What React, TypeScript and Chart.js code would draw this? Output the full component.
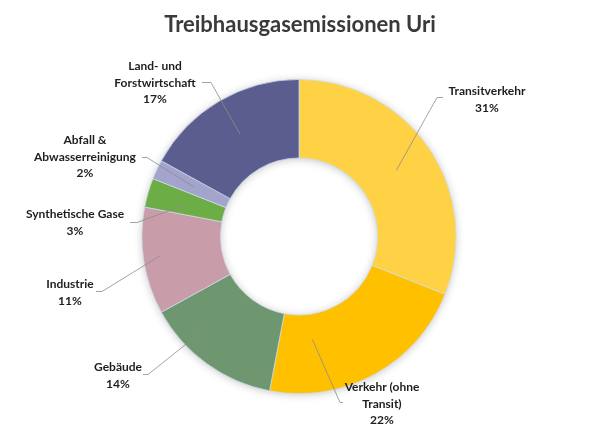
import React, { useEffect, useRef } from "react";
import { Chart, registerables } from "chart.js";

Chart.register(...registerables);

const TITLE = "Treibhausgasemissionen Uri";
const categories = [
  "Transitverkehr",
  "Verkehr (ohne Transit)",
  "Gebäude",
  "Industrie",
  "Synthetische Gase",
  "Abfall & Abwasserreinigung",
  "Land- und Forstwirtschaft",
];
const values = [31, 22, 14, 11, 3, 2, 17];
const labelLines = [
  ["Transitverkehr"],
  ["Verkehr (ohne", "Transit)"],
  ["Gebäude"],
  ["Industrie"],
  ["Synthetische Gase"],
  ["Abfall &", "Abwasserreinigung"],
  ["Land- und", "Forstwirtschaft"],
];
const colors = ["#FFD246", "#FFC000", "#6E9770", "#C99CA9", "#6CAD46", "#A3A4CB", "#5B5D8E"];

// label layout (offsets relative to donut centre), purely presentational
const labelStyle = [
  { frac: 0.5, rr: 0.5, elbow: [138, -139], end: [144, -139], text: [188, -145], side: 1 },
  { frac: 0.77, rr: 0.32, elbow: [41, 166], end: [44, 166], text: [83, 151], side: 1 },
  { frac: 0.69, rr: 0.72, elbow: [-151, 138], end: [-156, 138], text: [-181, 131], side: -1 },
  { frac: 0.53, rr: 0.78, elbow: [-197, 55], end: [-203, 55], text: [-229, 48], side: -1 },
  { frac: 0.45, rr: 0.5, elbow: [-162, -14], end: [-169, -14], text: [-224, -22], side: -1 },
  { frac: 0.51, rr: 0.48, elbow: [-152, -79], end: [-157, -79], text: [-214, -96], side: -1 },
  { frac: 0.51, rr: 0.5, elbow: [-88, -154], end: [-97, -154], text: [-144, -170], side: -1 },
];

const FONT = "Lato, 'Open Sans', sans-serif";

const decorPlugin = {
  id: "decor",
  beforeDatasetsDraw(chart: any) {
    const meta = chart.getDatasetMeta(0);
    const arc = meta.data[0];
    if (!arc) return;
    const { x, y, outerRadius, innerRadius } = arc;
    const ctx = chart.ctx;
    ctx.save();
    ctx.shadowColor = "rgba(0,0,0,0.28)";
    ctx.shadowBlur = 10;
    ctx.shadowOffsetX = 0;
    ctx.shadowOffsetY = 1;
    ctx.beginPath();
    ctx.arc(x, y, outerRadius - 1, 0, Math.PI * 2);
    ctx.arc(x, y, innerRadius + 1, 0, Math.PI * 2, true);
    ctx.fillStyle = "#ffffff";
    ctx.fill("evenodd");
    ctx.restore();
  },
  afterDraw(chart: any) {
    const ctx = chart.ctx;
    const meta = chart.getDatasetMeta(0);
    const total = values.reduce((a, b) => a + b, 0);
    ctx.save();
    // title
    ctx.fillStyle = "#3A3A3A";
    ctx.font = `bold 22px ${FONT}`;
    ctx.textAlign = "center";
    ctx.textBaseline = "alphabetic";
    ctx.fillText(TITLE, 300, 32);

    meta.data.forEach((arc: any, i: number) => {
      const st = labelStyle[i];
      const { x, y, startAngle, endAngle, innerRadius, outerRadius } = arc;
      const a = startAngle + (endAngle - startAngle) * st.frac;
      const r = innerRadius + (outerRadius - innerRadius) * st.rr;
      const sx = x + Math.cos(a) * r;
      const sy = y + Math.sin(a) * r;
      ctx.strokeStyle = "#8C8C8C";
      ctx.lineWidth = 0.8;
      ctx.beginPath();
      ctx.moveTo(sx, sy);
      ctx.lineTo(x + st.elbow[0], y + st.elbow[1]);
      ctx.lineTo(x + st.end[0], y + st.end[1]);
      ctx.stroke();

      const lines = [...labelLines[i], Math.round((values[i] / total) * 100) + "%"];
      ctx.fillStyle = "#1E1E1E";
      ctx.font = `bold 12px ${FONT}`;
      ctx.textAlign = "center";
      ctx.textBaseline = "middle";
      lines.forEach((ln, k) => {
        ctx.fillText(ln, x + st.text[0], y + st.text[1] + k * 16.5);
      });
    });
    ctx.restore();
  },
};

export default function App() {
  const ref = useRef<HTMLCanvasElement | null>(null);
  useEffect(() => {
    document.body.style.margin = "0";
    const canvas = ref.current;
    if (!canvas) return;
    const chart = new Chart(canvas, {
      type: "doughnut",
      data: {
        labels: categories,
        datasets: [
          {
            data: values,
            backgroundColor: colors,
            borderColor: "rgba(205,220,240,0.9)",
            borderWidth: 0.8,
          },
        ],
      },
      options: {
        responsive: false,
        animation: false,
        cutout: "50%",
        layout: { padding: { top: 79, bottom: 40, left: 0, right: 2 } },
        plugins: {
          legend: { display: false },
          title: { display: false },
          tooltip: { enabled: false },
        },
      },
      plugins: [decorPlugin],
    });
    return () => chart.destroy();
  }, []);
  return (
    <div style={{ width: 600, height: 434, background: "#ffffff" }}>
      <canvas ref={ref} width={600} height={434} style={{ width: 600, height: 434 }} />
    </div>
  );
}
